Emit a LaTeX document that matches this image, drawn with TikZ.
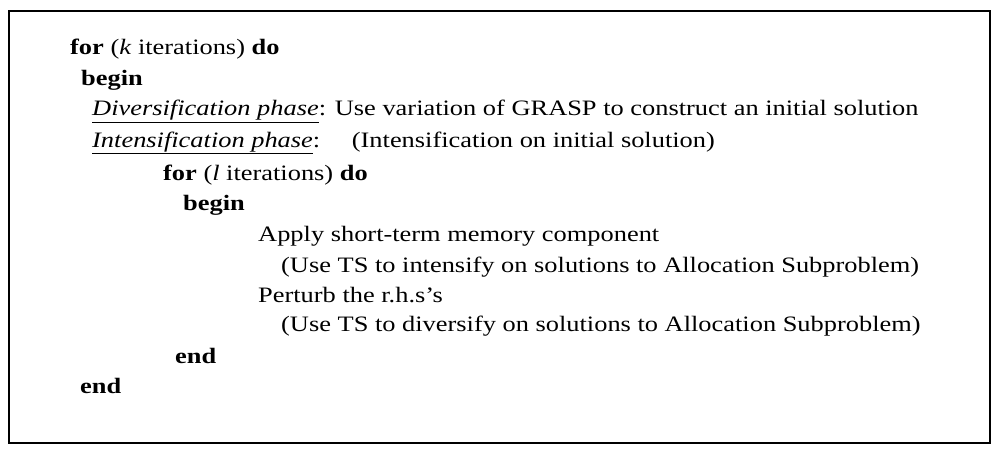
\documentclass[tikz,border=0pt]{standalone}
\usepackage{fontspec}
\setmainfont{Liberation Serif}
% wide setting of the pseudo-code lines
\newcommand{\codeline}[1]{\scalebox{1.2}[1]{#1}}
\begin{document}
\begin{tikzpicture}[x=1pt,y=-1pt,
  line/.style={anchor=base west,inner sep=0pt,font=\fontsize{22}{26}\selectfont},
  frame/.style={draw=black,line width=2.6pt}]
\useasboundingbox (0,0) rectangle (994,452);
\fill[white] (0,0) rectangle (994,452);
\draw[frame] (9,11) rectangle (990,443);

\node[line] (l1)  at (70,55)  {\codeline{\textbf{for} (\textit{k} iterations) \textbf{do}}};
\node[line] (l2)  at (81,86)  {\codeline{\textbf{begin}}};
\node[line] (l3)  at (92,116) {\codeline{\underline{\textit{Diversification phase}}: Use variation of GRASP to construct an initial solution}};
\node[line] (l4)  at (92,147) {\codeline{\underline{\textit{Intensification phase}}:\hspace{1.2em}(Intensification on initial solution)}};
\node[line] (l5)  at (163,180) {\codeline{\textbf{for} (\textit{l} iterations) \textbf{do}}};
\node[line] (l6)  at (183,210) {\codeline{\textbf{begin}}};
\node[line] (l7)  at (258,241) {\codeline{Apply short-term memory component}};
\node[line] (l8)  at (281,272) {\codeline{(Use TS to intensify on solutions to Allocation Subproblem)}};
\node[line] (l9)  at (258,302) {\codeline{Perturb the r.h.s's}};
\node[line] (l10) at (281,331) {\codeline{(Use TS to diversify on solutions to Allocation Subproblem)}};
\node[line] (l11) at (175,363) {\codeline{\textbf{end}}};
\node[line] (l12) at (80,393)  {\codeline{\textbf{end}}};
\end{tikzpicture}
\end{document}
